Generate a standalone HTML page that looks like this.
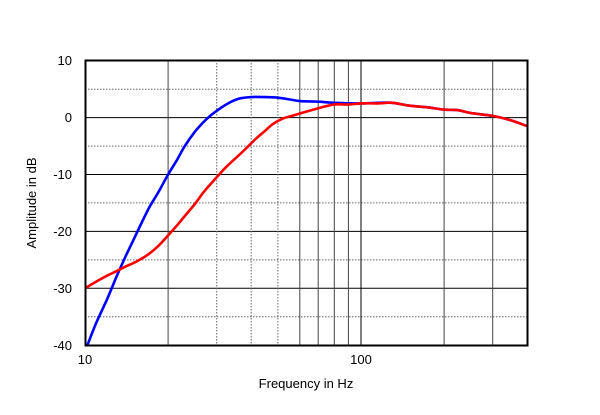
<!DOCTYPE html>
<html><head><meta charset="utf-8"><style>
body{margin:0;background:#fff;width:600px;height:410px;overflow:hidden}
text{font-family:"Liberation Sans",Arial,sans-serif;font-size:13px;fill:#000}
</style></head><body>
<svg id="s" width="600" height="410" xmlns="http://www.w3.org/2000/svg">
<g id="grid"></g>
<path id="blue" fill="none" stroke="#0000ff" stroke-width="2.6" stroke-linejoin="round"/>
<path id="red" fill="none" stroke="#ff0000" stroke-width="2.6" stroke-linejoin="round"/>
<rect x="85.5" y="60.5" width="442" height="285" fill="none" stroke="#000" stroke-width="2"/>
<text x="72" y="65" text-anchor="end">10</text>
<text x="72" y="122" text-anchor="end">0</text>
<text x="72" y="179" text-anchor="end">-10</text>
<text x="72" y="236" text-anchor="end">-20</text>
<text x="72" y="293" text-anchor="end">-30</text>
<text x="72" y="350" text-anchor="end">-40</text>
<text x="85" y="364" text-anchor="middle">10</text>
<text x="361" y="364" text-anchor="middle">100</text>
<text x="306" y="388" text-anchor="middle">Frequency in Hz</text>
<text transform="translate(36,203) rotate(-90)" text-anchor="middle">Amplitude in dB</text>
</svg>
<script>
var L=85,D=276,T=60.7,S=5.69;
function X(f){return L+Math.log10(f/10)*D}
function Y(d){return T+(10-d)*S}
var g='';
for(var d=-35;d<10;d+=5){var y=Y(d).toFixed(1);
 g+='<line x1="85" x2="527" y1="'+y+'" y2="'+y+'" stroke="'+(d%10==0?'#000':'#666')+'" stroke-width="1" '+(d%10==0?'':'stroke-dasharray="1.5,1.5"')+'/>';}
[20,30,40,50,60,70,80,90,200,300].forEach(function(f){var x=X(f).toFixed(1);
 var dot=(f==40||f==50||f==30);
 g+='<line x1="'+x+'" x2="'+x+'" y1="60" y2="345" stroke="'+(dot?'#666':'#444')+'" stroke-width="1" '+(dot?'stroke-dasharray="1.5,1.5"':'')+'/>';});
var x100=X(100).toFixed(1);g+='<line x1="'+x100+'" x2="'+x100+'" y1="60" y2="345" stroke="#000"/>';
document.getElementById('grid').innerHTML=g;
function P(a){var p=a.map(function(q){return [X(q[0]),Y(q[1])]});
 var s='M'+p[0][0].toFixed(1)+','+p[0][1].toFixed(1);
 for(var i=0;i<p.length-1;i++){var p0=p[i-1]||p[i],p1=p[i],p2=p[i+1],p3=p[i+2]||p2;
  var c1x=p1[0]+(p2[0]-p0[0])/6,c1y=p1[1]+(p2[1]-p0[1])/6,c2x=p2[0]-(p3[0]-p1[0])/6,c2y=p2[1]-(p3[1]-p1[1])/6;
  s+='C'+c1x.toFixed(1)+','+c1y.toFixed(1)+' '+c2x.toFixed(1)+','+c2y.toFixed(1)+' '+p2[0].toFixed(1)+','+p2[1].toFixed(1);}
 return s}
var B=[[10.2,-40],[11,-36],[12,-32],[13,-28],[14,-24.5],[15.5,-20],[17,-16],[18.5,-13],[20,-10],[21.5,-7.5],[23,-5],[25,-2.5],[27.5,-0.3],[30,1.2],[33,2.5],[36,3.3],[40,3.6],[45,3.6],[50,3.5],[55,3.2],[60,2.9],[70,2.8],[80,2.6],[100,2.5],[115,2.6],[130,2.6],[150,2.1],[175,1.8],[200,1.4],[225,1.3],[250,0.8],[300,0.3],[350,-0.5],[400,-1.5]];
var R=[[10,-30],[11,-28.8],[12,-27.8],[13,-27],[14,-26.2],[15.5,-25.2],[17,-24],[18.5,-22.5],[20,-20.7],[21.5,-19],[23,-17.3],[25,-15.2],[27,-13],[30,-10.5],[32,-9],[35,-7.2],[38,-5.6],[41,-4],[45,-2.3],[48,-1.1],[52,-0.2],[58,0.5],[65,1.2],[72,1.8],[80,2.3],[90,2.3],[100,2.5],[115,2.5],[130,2.6],[150,2.1],[175,1.8],[200,1.4],[225,1.3],[250,0.8],[300,0.3],[350,-0.5],[400,-1.5]];
document.getElementById('blue').setAttribute('d',P(B));
document.getElementById('red').setAttribute('d',P(R));
</script>
</body></html>
